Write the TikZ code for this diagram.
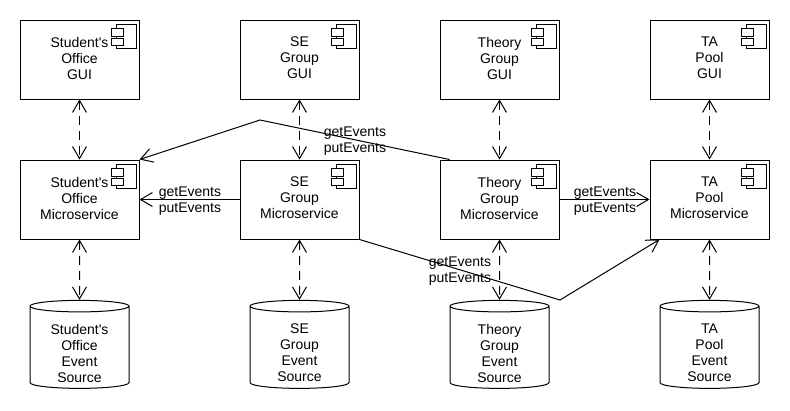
\documentclass[tikz,border=0pt]{standalone}
\usepackage{fontspec}
\newfontfamily\boxfont{Liberation Sans}
\usetikzlibrary{arrows.meta,positioning,shapes.geometric}
\tikzset{
 compbox/.style={draw,line width=1pt,minimum width=119pt,minimum height=79pt,align=center,inner sep=0pt,execute at end node=\rule[-3pt]{0pt}{3pt}},
 storecyl/.style={draw,line width=1pt,cylinder,shape border rotate=90,aspect=0.26,minimum width=99pt,minimum height=88pt,inner sep=0pt},
 callline/.style={line width=1pt,-{Straight Barb[length=12pt,width=14pt,line width=1pt]}},
 linkline/.style={line width=1pt,dash pattern=on 9pt off 6pt,{Straight Barb[length=12pt,width=14pt,line width=1pt]}-{Straight Barb[length=12pt,width=14pt,line width=1pt]}},
 calltext/.style={align=center,inner sep=0pt}
}
\newcommand{\compicon}[1]{
 \draw[line width=1pt] ([shift={(-23,5)}]#1.north east) rectangle ([shift={(-3.5,29)}]#1.north east);
 \draw[line width=1pt,fill=white] ([shift={(-28.5,9)}]#1.north east) rectangle ([shift={(-16.5,16.5)}]#1.north east);
 \draw[line width=1pt,fill=white] ([shift={(-28.5,19)}]#1.north east) rectangle ([shift={(-16.5,26)}]#1.north east);
}
\begin{document}
\begin{tikzpicture}[x=1pt,y=-1pt,font=\boxfont\fontsize{14}{16}\selectfont]
\useasboundingbox (0,0) rectangle (790,410);
\foreach \nm/\bx/\top/\sub in {off/79.5/Student's/Office,se/299.5/SE/Group,thy/499.5/Theory/Group,ta/709.5/TA/Pool} {
 \node[compbox] (gui\nm) at (\bx,59.5) {\top\\\sub\\GUI};
 \node[compbox] (ms\nm) at (\bx,199.5) {\top\\\sub\\Microservice};
 \node[storecyl] (db\nm) at (\bx,347.5) {\phantom{Source}};
 \node[calltext] (dbtext\nm) at (\bx,353) {\top\\\sub\\Event\\Source};
 \compicon{gui\nm}
 \compicon{ms\nm}
 \draw[linkline] (gui\nm) -- (ms\nm);
 \draw[linkline] (ms\nm) -- (db\nm.north);
}
% calls between the services
\coordinate (bendtop) at (260,120);
\coordinate (bendlow) at (560,300);
\draw[callline] (msse.west) -- (msoff.east);
\draw[callline] (msthy.east) -- (msta.west);
\draw[callline] ([xshift=10]msthy.north west) -- (bendtop) -- (msoff.north east);
\draw[callline] (msse.south east) -- (bendlow) -- ([xshift=10]msta.south west);
\node[calltext] (calltop) at (355,141) {getEvents\\putEvents};
\node[calltext] (callleft) at (190,201) {getEvents\\putEvents};
\node[calltext] (callright) at (605,201) {getEvents\\putEvents};
\node[calltext] (calllow) at (460,271) {getEvents\\putEvents};
\end{tikzpicture}
\end{document}
